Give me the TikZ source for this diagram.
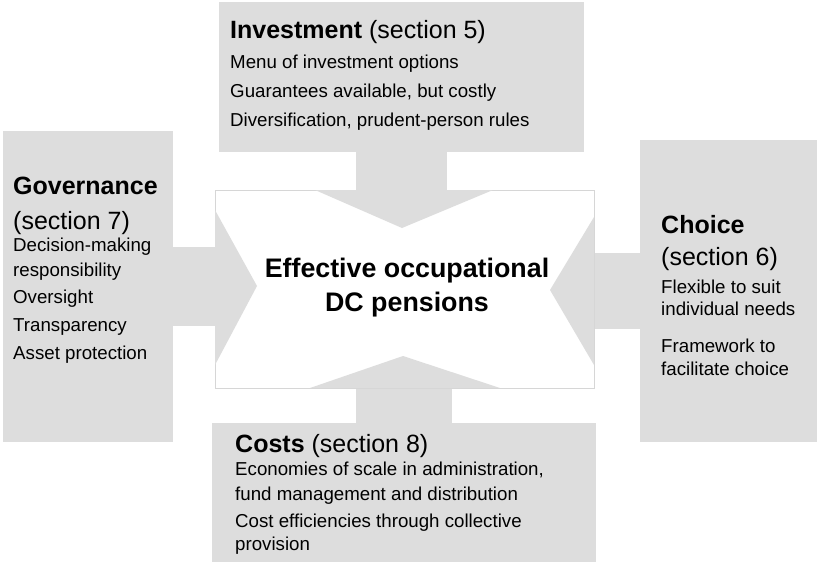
\documentclass[tikz,border=0pt]{standalone}
\usepackage{fontspec}
\setmainfont{Liberation Sans}
\usetikzlibrary{positioning}
\definecolor{panelgray}{RGB}{221,221,221}
\definecolor{edgegray}{RGB}{214,214,214}

\begin{document}
\begin{tikzpicture}[x=1pt,y=-1pt,
    panel/.style={fill=panelgray},
    head/.style={anchor=base west,inner sep=0pt,font=\fontsize{25}{28}\selectfont},
    body/.style={anchor=base west,inner sep=0pt,font=\fontsize{18.7}{22}\selectfont},
    hub/.style={anchor=base,inner sep=0pt,font=\bfseries\fontsize{26.8}{30}\selectfont}]
    \useasboundingbox (0,0) rectangle (817,562);
    % grey panels and their stems
    \fill[panel] (219,2) rectangle (584,152);
    \fill[panel] (3,131) rectangle (173,442);
    \fill[panel] (640,140) rectangle (817,442);
    \fill[panel] (212,423) rectangle (596,562);
    \fill[panel] (356,150) rectangle (447,192);
    \fill[panel] (171,247) rectangle (217,326);
    \fill[panel] (592,253) rectangle (642,329);
    \fill[panel] (356,386) rectangle (452,425);
    % centre
    \draw[edgegray,fill=white,line width=0.6pt] (215,190) rectangle (594,388);
    \fill[panel] (315,190) -- (402,228) -- (493,190) -- cycle;
    \fill[panel] (215,210) -- (257,286) -- (215,365) -- cycle;
    \fill[panel] (594,217) -- (550,290) -- (594,365) -- cycle;
    \fill[panel] (310,388) -- (403,356) -- (500,388) -- cycle;
    \node[hub] (hub1) at (407,277) {Effective occupational};
    \node[hub] (hub2) at (407,311) {DC pensions};

    % investment
    \node[head] (inv) at (230,38) {\textbf{Investment} (section 5)};
    \node[body] (inv1) at (230,68) {Menu of investment options};
    \node[body] (inv2) at (230,97) {Guarantees available, but costly};
    \node[body] (inv3) at (230,126) {Diversification, prudent-person rules};

    % governance
    \node[head] (gov) at (13,194) {\textbf{Governance}};
    \node[head] (govsec) at (13,229) {(section 7)};
    \node[body] (gov1) at (13,251) {Decision-making};
    \node[body] (gov1b) at (13,276) {responsibility};
    \node[body] (gov2) at (13,303) {Oversight};
    \node[body] (gov3) at (13,331) {Transparency};
    \node[body] (gov4) at (13,359) {Asset protection};

    % choice
    \node[head] (cho) at (661,233) {\textbf{Choice}};
    \node[head] (chosec) at (661,265) {(section 6)};
    \node[body] (cho1) at (661,293) {Flexible to suit};
    \node[body] (cho1b) at (661,315) {individual needs};
    \node[body] (cho2) at (661,352) {Framework to};
    \node[body] (cho2b) at (661,375) {facilitate choice};

    % costs
    \node[head] (cost) at (235,452) {\textbf{Costs} (section 8)};
    \node[body] (cost1) at (235,475) {Economies of scale in administration,};
    \node[body] (cost1b) at (235,500) {fund management and distribution};
    \node[body] (cost2) at (235,527) {Cost efficiencies through collective};
    \node[body] (cost2b) at (235,550) {provision};
\end{tikzpicture}
\end{document}
